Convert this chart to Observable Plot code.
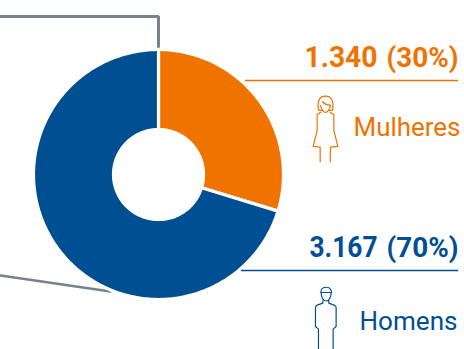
<!DOCTYPE html>
<html><head><meta charset="utf-8">
<style>html,body{margin:0;padding:0;background:#fff}svg{display:block}</style>
<script src="https://cdn.jsdelivr.net/npm/d3@7"></script>
<script src="https://cdn.jsdelivr.net/npm/@observablehq/plot@0.6"></script>
</head><body><script>
const categories = ["Mulheres", "Homens"];
const values = [1340, 3167];
const valueLabels = ["1.340", "3.167"];
const percentLabels = ["(30%)", "(70%)"];
const colors = ["#F07300", "#004F93"];
const ORANGE = colors[0], BLUE = colors[1], GRAY = "#76838D";
const cx = 158, cy = 174, R = 125, r = 45;
const font = "Roboto";

const arcs = d3.pie().sort(null)(values);
const ring = arcs.flatMap((a, i) => {
  const n = Math.ceil((a.endAngle - a.startAngle) * 60), pts = [];
  for (let k = 0; k <= n; k++) { const t = a.startAngle + (a.endAngle - a.startAngle) * k / n;
    pts.push({i, x: cx + R * Math.sin(t), y: cy - R * Math.cos(t)}); }
  for (let k = n; k >= 0; k--) { const t = a.startAngle + (a.endAngle - a.startAngle) * k / n;
    pts.push({i, x: cx + r * Math.sin(t), y: cy - r * Math.cos(t)}); }
  pts.push(pts[0]);
  return pts;
});

const svgUri = (vb, w, h, color, sw, d) => "data:image/svg+xml," + encodeURIComponent(
  `<svg xmlns="http://www.w3.org/2000/svg" viewBox="${vb}" width="${w}" height="${h}"><path d="${d}" fill="none" stroke="${color}" stroke-width="${sw}" stroke-linejoin="round"/></svg>`);
const woman = svgUri("60 190 90 210", 30, 70, ORANGE, 3.6,
  "M84 240C80 215 85 197 105 197C125 197 130 215 126 240L115 240M95 240L84 240M90 224C92 236 100 246 105 246C110 246 118 236 120 224C110 224 100 220 96 212M92 245L80 252L80 300L68 348L89 350L89 395M119 395L120 350L142 348L130 300L130 252L118 245");
const man = svgUri("250 195 72 195", 24, 65, BLUE, 3.6,
  "M271 216C271 195 303 195 303 216ZM272 216C272 250 302 250 302 216M277 240L277 248L260 254Q255 256 255 262L255 318L264 326L264 390M308 390L308 326L317 318L317 262Q317 256 311 254L295 248L295 240");

const chart = Plot.plot({
  width: 464, height: 349, margin: 0,
  x: {domain: [0, 464], range: [0, 464], axis: null},
  y: {domain: [0, 349], range: [0, 349], axis: null},
  marks: [
    Plot.line([[0,16],[158,16],[158,46]], {x: d => d[0], y: d => d[1], stroke: GRAY, strokeWidth: 3, curve: "linear", strokeLinejoin: "miter"}),
    Plot.line([[0,275],[110,291]], {x: d => d[0], y: d => d[1], stroke: GRAY, strokeWidth: 2.6}),
    Plot.line(ring, {x: "x", y: "y", z: "i", fill: d => colors[d.i], stroke: "white", strokeWidth: 3.2}),
    Plot.ruleY([80], {x1: 245, x2: 458, stroke: ORANGE, strokeWidth: 1.6}),
    Plot.ruleY([270], {x1: 241, x2: 458, stroke: BLUE, strokeWidth: 1.6}),
    Plot.text([valueLabels[0]], {x: 377, y: 66, text: d => d, textAnchor: "end", fill: ORANGE, fontFamily: font, fontWeight: 700, fontSize: 29.5, lineAnchor: "bottom"}),
    Plot.text([percentLabels[0]], {x: 458, y: 66, text: d => d, textAnchor: "end", fill: ORANGE, fontFamily: font, fontWeight: 700, fontSize: 27, lineAnchor: "bottom"}),
    Plot.text([valueLabels[1]], {x: 377, y: 256, text: d => d, textAnchor: "end", fill: BLUE, fontFamily: font, fontWeight: 700, fontSize: 29.5, lineAnchor: "bottom"}),
    Plot.text([percentLabels[1]], {x: 458, y: 256, text: d => d, textAnchor: "end", fill: BLUE, fontFamily: font, fontWeight: 700, fontSize: 27, lineAnchor: "bottom"}),
    Plot.text([categories[0]], {x: 460, y: 135, text: d => d, textAnchor: "end", fill: ORANGE, fontFamily: font, fontSize: 26, lineAnchor: "bottom"}),
    Plot.text([categories[1]], {x: 457, y: 329, text: d => d, textAnchor: "end", fill: BLUE, fontFamily: font, fontSize: 25.5, lineAnchor: "bottom"}),
    Plot.image([woman], {x: 325, y: 128.3, width: 30, height: 70, src: d => d}),
    Plot.image([man], {x: 325.3, y: 317.5, width: 24, height: 65, src: d => d})
  ]
});
const widths = {"1.340": 73, "3.167": 68, "(30%)": 72, "(70%)": 72, "Mulheres": 107, "Homens": 98};
chart.querySelectorAll("text").forEach(t => {
  const w = widths[t.textContent];
  if (w) { t.setAttribute("textLength", w); t.setAttribute("lengthAdjust", "spacingAndGlyphs"); }
});
document.body.appendChild(chart);
</script></body></html>
